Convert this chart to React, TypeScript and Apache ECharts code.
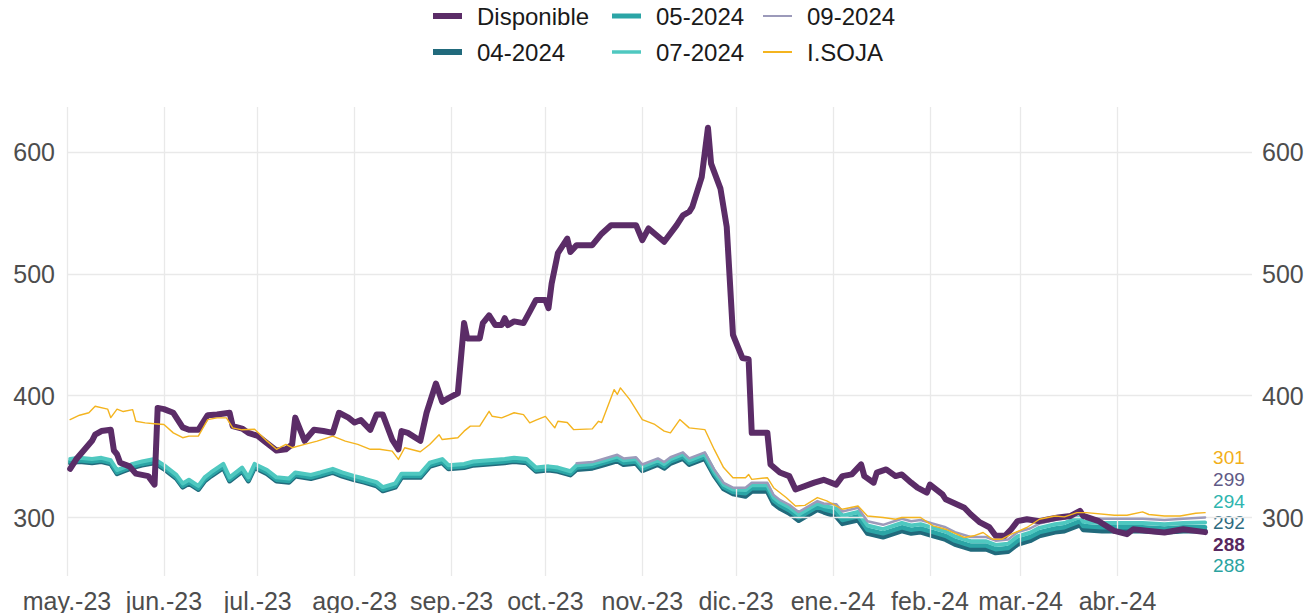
import React, { useEffect, useRef } from 'react';
import * as echarts from 'echarts';

// ---------- DATA ----------
const monthTicks = [
  '2023-05-01', '2023-06-01', '2023-07-01', '2023-08-01', '2023-09-01', '2023-10-01',
  '2023-11-01', '2023-12-01', '2024-01-01', '2024-02-01', '2024-03-01', '2024-04-01',
];
const monthNames = ['ene.', 'feb.', 'mar.', 'abr.', 'may.', 'jun.', 'jul.', 'ago.', 'sep.', 'oct.', 'nov.', 'dic.'];
const yTicks = [300, 400, 500, 600];

const dispDates = [
  '2023-05-02', '2023-05-04', '2023-05-06', '2023-05-09', '2023-05-10', '2023-05-12', '2023-05-15', '2023-05-16', '2023-05-17', '2023-05-18',
  '2023-05-21', '2023-05-23', '2023-05-27', '2023-05-29', '2023-05-30', '2023-06-01', '2023-06-04', '2023-06-07', '2023-06-09', '2023-06-12',
  '2023-06-15', '2023-06-18', '2023-06-22', '2023-06-23', '2023-06-26', '2023-06-28', '2023-07-01', '2023-07-03', '2023-07-06', '2023-07-07',
  '2023-07-10', '2023-07-12', '2023-07-13', '2023-07-16', '2023-07-19', '2023-07-22', '2023-07-25', '2023-07-27', '2023-07-30', '2023-08-01',
  '2023-08-03', '2023-08-06', '2023-08-08', '2023-08-10', '2023-08-13', '2023-08-15', '2023-08-16', '2023-08-18', '2023-08-22', '2023-08-24',
  '2023-08-27', '2023-08-29', '2023-08-31', '2023-09-03', '2023-09-05', '2023-09-06', '2023-09-10', '2023-09-11', '2023-09-13', '2023-09-15',
  '2023-09-17', '2023-09-18', '2023-09-19', '2023-09-21', '2023-09-24', '2023-09-26', '2023-09-28', '2023-10-01', '2023-10-02', '2023-10-03',
  '2023-10-05', '2023-10-08', '2023-10-09', '2023-10-11', '2023-10-16', '2023-10-19', '2023-10-22', '2023-10-30', '2023-11-01', '2023-11-03',
  '2023-11-08', '2023-11-12', '2023-11-14', '2023-11-16', '2023-11-17', '2023-11-20', '2023-11-22', '2023-11-23', '2023-11-26', '2023-11-28',
  '2023-11-30', '2023-12-03', '2023-12-05', '2023-12-06', '2023-12-11', '2023-12-12', '2023-12-15', '2023-12-18', '2023-12-20', '2023-12-26',
  '2023-12-29', '2024-01-02', '2024-01-04', '2024-01-07', '2024-01-10', '2024-01-11', '2024-01-14', '2024-01-15', '2024-01-18', '2024-01-21',
  '2024-01-23', '2024-01-26', '2024-01-28', '2024-01-31', '2024-02-01', '2024-02-05', '2024-02-06', '2024-02-12', '2024-02-14', '2024-02-17',
  '2024-02-20', '2024-02-22', '2024-02-25', '2024-02-27', '2024-02-29', '2024-03-03', '2024-03-07', '2024-03-10', '2024-03-13', '2024-03-17',
  '2024-03-20', '2024-03-21', '2024-03-26', '2024-03-31', '2024-04-04', '2024-04-06', '2024-04-11', '2024-04-16', '2024-04-22', '2024-04-29',
];
const dispValues = [
  340, 348, 354, 363, 368, 371, 372, 355, 352, 345,
  342, 336, 334, 327, 390, 389, 386, 374, 372, 372,
  384, 384.5, 386, 375, 373, 369.5, 367, 363, 357, 355,
  356, 360, 382, 363, 372, 371, 369.5, 386, 382, 378,
  380, 372, 384.5, 384.5, 364, 356, 371, 369.5, 363, 386,
  410, 395, 398, 402, 459.6, 447, 447, 459.6, 466, 458,
  458, 463.7, 458, 461, 459.6, 469, 478.6, 478.6, 471.8, 492,
  517, 529, 518, 523.6, 523.6, 533, 540, 540, 527.7, 537.3,
  526.4, 540, 548, 551, 555, 579.5, 620, 590.5, 570, 538.6,
  450, 431, 430, 369.5, 369.5, 343.6, 337, 334, 323, 328.6,
  331, 327, 334, 335.4, 343.6, 334, 328.6, 336.8, 339.5, 334,
  335.4, 328.6, 324.5, 320.5, 327, 319, 315, 308, 302.7, 296,
  292, 285, 285, 290.4, 297, 298.6, 297, 298.6, 300, 301.3,
  305.4, 301.3, 297, 289, 286.3, 290.4, 289, 287.7, 290.4, 288,
];

const sojaDates = [
  '2023-05-02', '2023-05-05', '2023-05-08', '2023-05-10', '2023-05-14', '2023-05-15', '2023-05-17', '2023-05-19', '2023-05-22', '2023-05-23',
  '2023-05-26', '2023-05-29', '2023-06-01', '2023-06-04', '2023-06-07', '2023-06-09', '2023-06-12', '2023-06-15', '2023-06-18', '2023-06-21',
  '2023-06-23', '2023-06-26', '2023-06-30', '2023-07-04', '2023-07-07', '2023-07-10', '2023-07-12', '2023-07-16', '2023-07-20', '2023-07-25',
  '2023-07-29', '2023-08-02', '2023-08-06', '2023-08-09', '2023-08-13', '2023-08-15', '2023-08-17', '2023-08-22', '2023-08-25', '2023-08-28',
  '2023-08-29', '2023-09-03', '2023-09-05', '2023-09-07', '2023-09-10', '2023-09-13', '2023-09-14', '2023-09-17', '2023-09-21', '2023-09-24',
  '2023-09-26', '2023-09-28', '2023-10-01', '2023-10-04', '2023-10-05', '2023-10-08', '2023-10-10', '2023-10-16', '2023-10-18', '2023-10-19',
  '2023-10-23', '2023-10-24', '2023-10-25', '2023-10-28', '2023-11-01', '2023-11-05', '2023-11-08', '2023-11-10', '2023-11-13', '2023-11-16',
  '2023-11-21', '2023-11-24', '2023-11-27', '2023-11-30', '2023-12-04', '2023-12-05', '2023-12-06', '2023-12-11', '2023-12-13', '2023-12-17',
  '2023-12-20', '2023-12-23', '2023-12-27', '2023-12-30', '2024-01-04', '2024-01-09', '2024-01-12', '2024-01-17', '2024-01-21', '2024-01-23',
  '2024-01-29', '2024-02-02', '2024-02-06', '2024-02-12', '2024-02-15', '2024-02-18', '2024-02-21', '2024-02-24', '2024-02-27', '2024-03-03',
  '2024-03-07', '2024-03-12', '2024-03-15', '2024-03-19', '2024-03-22', '2024-03-31', '2024-04-04', '2024-04-09', '2024-04-11', '2024-04-16',
  '2024-04-21', '2024-04-26', '2024-04-29',
];
const sojaValues = [
  380.4, 384, 386, 391.3, 389, 382, 389, 387, 388.6, 379,
  377.7, 377, 376.4, 369.5, 365.5, 366.8, 366.8, 380.4, 381.8, 381.8,
  373.6, 372, 372.5, 362.7, 356, 360, 357.3, 360, 362.7, 366.8,
  362.7, 360, 356, 356, 354.5, 347.7, 357.3, 354, 360, 368,
  364, 365.5, 370.9, 375, 375, 387.2, 383.1, 381.8, 386, 384.5,
  377.7, 380, 383, 373.6, 379, 378, 372.2, 372.8, 379, 378,
  405, 401, 406.4, 396.8, 380.4, 376.4, 370.9, 369.5, 380.4, 373.6,
  372.2, 355.9, 341, 332.7, 332.7, 335.4, 331.3, 332.7, 324.5, 316.4,
  309.5, 310, 316.4, 313.6, 306.8, 309.5, 301.3, 300, 298.6, 300,
  300, 293.1, 290.4, 283.6, 285, 287.7, 282.2, 282.2, 286.3, 291.8,
  298.6, 301.3, 300.5, 304, 304, 301.9, 301.9, 304.6, 302.5, 301.3,
  301.3, 303.5, 304,
];

const contractDates = [
  '2023-05-02', '2023-05-05', '2023-05-09', '2023-05-12', '2023-05-15', '2023-05-17', '2023-05-19', '2023-05-22', '2023-05-25', '2023-05-29',
  '2023-06-01', '2023-06-05', '2023-06-07', '2023-06-09', '2023-06-12', '2023-06-14', '2023-06-16', '2023-06-20', '2023-06-22', '2023-06-26',
  '2023-06-28', '2023-06-30', '2023-07-04', '2023-07-07', '2023-07-11', '2023-07-13', '2023-07-18', '2023-07-21', '2023-07-25', '2023-07-28',
  '2023-08-01', '2023-08-04', '2023-08-08', '2023-08-10', '2023-08-14', '2023-08-16', '2023-08-22', '2023-08-25', '2023-08-29', '2023-08-31',
  '2023-09-05', '2023-09-08', '2023-09-13', '2023-09-18', '2023-09-21', '2023-09-25', '2023-09-28', '2023-10-02', '2023-10-05', '2023-10-09',
  '2023-10-11', '2023-10-16', '2023-10-20', '2023-10-24', '2023-10-26', '2023-10-30', '2023-11-01', '2023-11-06', '2023-11-08', '2023-11-10',
  '2023-11-14', '2023-11-16', '2023-11-21', '2023-11-24', '2023-11-27', '2023-11-30', '2023-12-04', '2023-12-06', '2023-12-11', '2023-12-13',
  '2023-12-15', '2023-12-18', '2023-12-21', '2023-12-27', '2023-12-29', '2024-01-02', '2024-01-04', '2024-01-09', '2024-01-12', '2024-01-17',
  '2024-01-23', '2024-01-26', '2024-01-29', '2024-02-02', '2024-02-06', '2024-02-09', '2024-02-14', '2024-02-19', '2024-02-22', '2024-02-26',
  '2024-02-29', '2024-03-04', '2024-03-07', '2024-03-12', '2024-03-15', '2024-03-20', '2024-03-21', '2024-03-27', '2024-04-03', '2024-04-09',
  '2024-04-16', '2024-04-22', '2024-04-29',
];
const c04Values = [
  345, 346, 345, 346, 344, 336, 338, 341, 343, 345,
  340, 332, 325, 328, 323, 330, 334, 341, 330, 338,
  330, 341, 336, 330, 329, 334, 332, 334, 337, 334,
  331, 329, 326, 322, 325, 333, 333, 342, 345, 340,
  341, 343, 344, 345, 346, 345, 338, 339, 338, 335,
  339.5, 340.5, 343.5, 346.5, 343.5, 344.5, 338.5, 343.5, 340.5, 344.5,
  348.5, 343.5, 348.5, 334.5, 323.5, 319.5, 317.5, 321.5, 321.5, 311.5,
  307.5, 303.5, 297.5, 306.5, 304.5, 301, 295, 298, 287, 284,
  289, 287, 288, 285, 282, 278, 274, 274, 271, 272,
  278, 281, 285, 288, 289, 294, 290, 289, 289, 289,
  288, 289, 289,
];
const c05Values = [
  346, 347, 346, 347, 345, 337, 339, 342, 344, 346,
  341, 333, 326, 329, 324, 331, 335, 342, 331, 339,
  331, 342, 337, 331, 330, 335, 333, 335, 338, 335,
  332, 330, 327, 323, 326, 334, 334, 343, 346, 341,
  342, 344, 345, 346, 347, 346, 339, 340, 339, 336,
  341, 342, 345, 348, 345, 346, 340, 345, 342, 346,
  350, 345, 350, 336, 325, 321, 320, 324, 324, 314,
  310, 306, 300, 309, 307, 304, 298, 301, 290, 287,
  292, 290, 291, 288, 285, 281, 277, 277, 274, 275,
  281, 284, 288, 291, 292, 297, 293, 292, 292, 292,
  291, 292, 292,
];
const c07Values = [
  348, 349, 348, 349, 347, 339, 341, 344, 346, 348,
  343, 335, 328, 331, 326, 333, 337, 344, 333, 341,
  333, 344, 339, 333, 332, 337, 335, 337, 340, 337,
  334, 332, 329, 325, 328, 336, 336, 345, 348, 343,
  344, 346, 347, 348, 349, 348, 341, 342, 341, 338,
  343, 344, 347, 350, 347, 348, 342, 347, 344, 348,
  352, 347, 352, 338, 327, 323, 322.5, 326.5, 326.5, 316.5,
  312.5, 308.5, 302.5, 311.5, 309.5, 307.5, 301.5, 304.5, 293.5, 290.5,
  295.5, 293.5, 294.5, 291.5, 288.5, 284.5, 280.5, 280.5, 277.5, 278.5,
  284.5, 287.5, 291.5, 294.5, 295.5, 300.5, 296.5, 295.5, 295.5, 295.5,
  294.5, 295.5, 296,
];
const c09Values = [
  null, null, null, null, null, null, null, null, null, null,
  null, null, null, null, null, null, null, null, null, null,
  null, null, null, null, null, null, null, null, null, null,
  null, null, null, null, null, null, null, null, null, null,
  null, null, null, null, null, null, null, null, null, null,
  344.5, 345.5, 348.5, 351.5, 348.5, 349.5, 343.5, 348.5, 345.5, 349.5,
  353.5, 348.5, 353.5, 339.5, 328.5, 324.5, 324.5, 328.5, 328.5, 318.5,
  314.5, 310.5, 304.5, 313.5, 311.5, 311, 305, 308, 297, 294,
  299, 297, 298, 295, 292, 288, 284, 284, 281, 282,
  288, 291, 295, 298, 299, 304, 300, 299, 299, 299,
  298, 299, 300,
];

// value printed next to each line's end
const endLabelValues: Record<string, number> = {
  'Disponible': 288, '04-2024': 292, '05-2024': 288, '07-2024': 294, '09-2024': 299, 'I.SOJA': 301,
};

// ---------- STYLES ----------
const FONT = '"Liberation Sans", Arial, Helvetica, sans-serif';
const colors: Record<string, string> = {
  'Disponible': '#5B2C67', '04-2024': '#216A7C', '05-2024': '#2BA5A6', '07-2024': '#4FC8C0',
  '09-2024': '#9C9ABA', 'I.SOJA': '#F4B41F',
};
const labelColors: Record<string, string> = {
  'Disponible': '#58285F', '04-2024': '#2E6B80', '05-2024': '#2AA39F', '07-2024': '#2FB5AF',
  '09-2024': '#5F5A86', 'I.SOJA': '#F2AF18',
};
const widths: Record<string, number> = {
  'Disponible': 6, '04-2024': 5, '05-2024': 4.5, '07-2024': 4, '09-2024': 2.5, 'I.SOJA': 1.4,
};
// end-label vertical nudges (pixels) so the six labels do not collide
const labelDy: Record<string, number> = {
  'I.SOJA': -55, '09-2024': -38, '07-2024': -21, '04-2024': -8, 'Disponible': 12, '05-2024': 38,
};

const ts = (s: string) => new Date(s + 'T00:00:00').getTime();
const zip = (dates: string[], vals: (number | null)[]) => dates.map((d, i) => [ts(d), vals[i]]);

function lineSeries(name: string, data: any[], z: number) {
  return {
    name,
    type: 'line',
    data,
    z,
    color: colors[name],
    showSymbol: false,
    symbol: 'none',
    connectNulls: false,
    lineStyle: { width: widths[name], color: colors[name], join: 'round', cap: 'round' },
    itemStyle: { color: colors[name] },
    emphasis: { disabled: true },
    endLabel: {
      show: true,
      formatter: () => String(endLabelValues[name]),
      color: labelColors[name],
      fontSize: 19,
      lineHeight: 19,
      fontFamily: FONT,
      fontWeight: name === 'Disponible' ? 'bold' : 'normal',
      distance: 8,
      offset: [0, labelDy[name]],
    },
  };
}

function legendItem(name: string, left: number, top: number, h: number) {
  return {
    data: [{ name, icon: 'rect' }],
    left,
    top,
    padding: 0,
    itemWidth: 29,
    itemHeight: h,
    selectedMode: false,
    textStyle: { fontSize: 24, color: '#1a1a1a', fontFamily: FONT, padding: [0, 0, 0, 10] },
  };
}

export default function App() {
  const ref = useRef<HTMLDivElement>(null);
  useEffect(() => {
    if (!ref.current) return;
    const chart = echarts.init(ref.current, undefined, { renderer: 'svg' });
    const axisLabelStyle = { fontSize: 25, color: '#4d4d4d', fontFamily: FONT };
    const yAxisBase = {
      type: 'value',
      min: 252,
      max: 637,
      splitLine: { show: false },
      axisLine: { show: false },
      axisTick: { show: false },
    };
    chart.setOption({
      animation: false,
      textStyle: { fontFamily: FONT },
      grid: { left: 67, right: 57, top: 107, bottom: 36, containLabel: false },
      legend: [
        legendItem('Disponible', 433, 4, 6),
        legendItem('04-2024', 433, 40, 6),
        legendItem('05-2024', 612, 4, 5),
        legendItem('07-2024', 612, 40, 3.5),
        legendItem('09-2024', 763, 4, 2),
        legendItem('I.SOJA', 763, 40, 2),
      ],
      xAxis: {
        type: 'value',
        min: ts('2023-05-01'),
        max: ts('2024-05-14'),
        axisLine: { show: false },
        axisTick: { show: false },
        splitLine: { show: false },
        axisLabel: {
          ...axisLabelStyle,
          margin: 12,
          customValues: monthTicks.map(ts),
          formatter: (v: number) => {
            const d = new Date(v);
            return monthNames[d.getMonth()] + '-' + String(d.getFullYear()).slice(2);
          },
        },
      },
      yAxis: [
        { ...yAxisBase, position: 'left', axisLabel: { ...axisLabelStyle, margin: 12, customValues: yTicks } },
        { ...yAxisBase, position: 'right', axisLabel: { ...axisLabelStyle, margin: 10, customValues: yTicks } },
      ],
      series: [
        {
          name: 'grid',
          type: 'line',
          data: [],
          z: 0,
          silent: true,
          markLine: {
            silent: true,
            symbol: ['none', 'none'],
            label: { show: false },
            emphasis: { disabled: true },
            lineStyle: { color: '#e9e9e9', width: 1.3, type: 'solid' },
            data: [
              ...yTicks.map((v) => ({ yAxis: v })),
              ...monthTicks.map((t) => ({ xAxis: ts(t) })),
            ],
          },
        },
        lineSeries('04-2024', zip(contractDates, c04Values), 2),
        lineSeries('05-2024', zip(contractDates, c05Values), 3),
        lineSeries('07-2024', zip(contractDates, c07Values), 4),
        lineSeries('09-2024', zip(contractDates, c09Values), 5),
        lineSeries('Disponible', zip(dispDates, dispValues), 6),
        lineSeries('I.SOJA', zip(sojaDates, sojaValues), 7),
      ],
    });
    return () => chart.dispose();
  }, []);
  return (
    <div
      ref={ref}
      style={{ position: 'fixed', left: 0, top: 0, width: 1309, height: 613, background: '#fff' }}
    />
  );
}
